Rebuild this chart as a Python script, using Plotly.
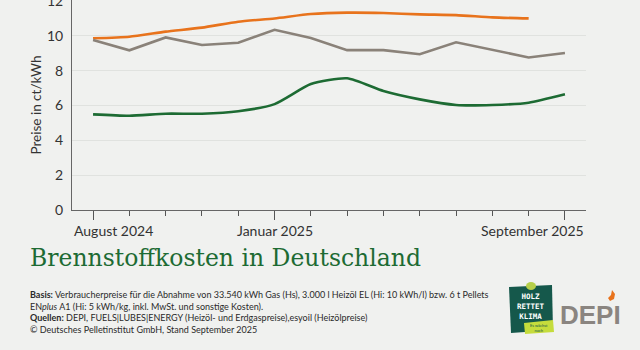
import plotly.graph_objects as go

months = ["Aug 2024", "Sep 2024", "Okt 2024", "Nov 2024", "Dez 2024", "Jan 2025", "Feb 2025",
          "Mär 2025", "Apr 2025", "Mai 2025", "Jun 2025", "Jul 2025", "Aug 2025", "Sep 2025"]
gas = [9.86, 9.95, 10.24, 10.47, 10.81, 11.0, 11.25, 11.33, 11.31, 11.23, 11.19, 11.06, 11.0, None]
heizoel = [9.76, 9.17, 9.91, 9.47, 9.6, 10.35, 9.87, 9.18, 9.18, 8.94, 9.63, 9.2, 8.76, 9.01]
pellets = [5.49, 5.41, 5.53, 5.53, 5.67, 6.08, 7.23, 7.56, 6.83, 6.35, 6.03, 6.03, 6.16, 6.64]
tick_labels = ["August 2024", "Januar 2025", "September 2025"]
tick_idx = [0, 5, 13]

x = list(range(len(months)))
BG = "#f0f1ef"
FONT = "Lato"

fig = go.Figure()
fig.add_trace(go.Scatter(x=x, y=gas, mode="lines", name="Erdgas",
                         line=dict(color="#e8731c", width=2.6, shape="spline", smoothing=0.6),
                         customdata=months, hovertemplate="%{customdata}: %{y:.2f}<extra>Erdgas</extra>"))
fig.add_trace(go.Scatter(x=x, y=heizoel, mode="lines", name="Heizöl",
                         line=dict(color="#8a8279", width=2.6),
                         customdata=months, hovertemplate="%{customdata}: %{y:.2f}<extra>Heizöl</extra>"))
fig.add_trace(go.Scatter(x=x, y=pellets, mode="lines", name="Pellets",
                         line=dict(color="#1d6b33", width=2.6, shape="spline", smoothing=0.6),
                         customdata=months, hovertemplate="%{customdata}: %{y:.2f}<extra>Pellets</extra>"))

W, H = 640, 350
ml, mr, mt, mb = 72, 640 - 586, 0, 140
yr_top = 12 * 210 / 209  # so that 12 sits 1px below the top edge

xmin, xmax = -0.58, 13.58
fig.update_xaxes(range=[xmin, xmax], tickvals=tick_idx, ticktext=["", "", ""],
                 ticks="outside", ticklen=9, tickwidth=1, tickcolor="#555",
                 minor=dict(dtick=1, tick0=0, ticks="outside", ticklen=5, tickcolor="#555", showgrid=False),
                 showline=True, linecolor="#666", linewidth=1, showgrid=False, zeroline=False,
                 automargin=False, fixedrange=True)
fig.update_yaxes(range=[0, yr_top], tickvals=[0, 2, 4, 6, 8, 10, 12], showgrid=True, gridcolor="#e0e2df", gridwidth=1,
                 showline=True, linecolor="#666", linewidth=1, zeroline=False,
                 tickfont=dict(family=FONT, size=14, color="#333"), ticks="", ticklabelstandoff=5,
                 ticklabeloverflow="allow", automargin=False,
                 title=dict(text="Preise in ct/kWh", font=dict(family=FONT, size=13.5, color="#333"), standoff=2),
                 fixedrange=True)

def px(xp):
    return (xp - ml) / (W - ml - mr)
def py(yp):
    return (H - mb - yp) / (H - mt - mb)

# x tick labels as annotations (edge labels kept inside the axis)
anchors = ["left", "center", "right"]
xs = [xmin, tick_idx[1], xmax]
for lab, xa, anc in zip(tick_labels, xs, anchors):
    fig.add_annotation(x=xa, xref="x", y=0, yref="paper", yshift=-20, text=lab, showarrow=False,
                       xanchor=anc, yanchor="middle", font=dict(family=FONT, size=14, color="#333"))

footer = ("<b>Basis:</b> Verbraucherpreise für die Abnahme von 33.540 kWh Gas (Hs), 3.000 l Heizöl EL (Hi: 10 kWh/l) bzw. 6 t Pellets<br>"
          "EN<i>plus</i> A1 (Hi: 5 kWh/kg, inkl. MwSt. und sonstige Kosten).<br>"
          "<b>Quellen:</b> DEPI, FUELS|LUBES|ENERGY (Heizöl- und Erdgaspreise),esyoil (Heizölpreise)<br>"
          "© Deutsches Pelletinstitut GmbH, Stand September 2025")

fig.add_annotation(x=px(28), y=py(258), xref="paper", yref="paper", xanchor="left", yanchor="middle",
                   text="Brennstoffkosten in Deutschland", showarrow=False,
                   font=dict(family="DejaVu Serif", size=23.5, color="#1d6b33"))
fig.add_annotation(x=px(28), y=py(287), xref="paper", yref="paper", xanchor="left", yanchor="top",
                   text=footer, showarrow=False, align="left",
                   font=dict(family=FONT, size=9, color="#2a2a2a"))

# Logos (approximate)
def pth(pts):
    return "M " + " L ".join(f"{px(a)},{py(b)}" for a, b in pts) + " Z"
fig.add_shape(type="path", xref="paper", yref="paper", path=pth([(509, 287), (552, 285), (553, 330), (511, 333)]),
              fillcolor="#15584b", line=dict(width=0))
fig.add_shape(type="circle", xref="paper", yref="paper", x0=px(526), x1=px(536), y0=py(290), y1=py(282),
              fillcolor="#b6cf4a", line=dict(width=0))
fig.add_annotation(x=px(531), y=py(306), xref="paper", yref="paper", text="<b>HOLZ<br>RETTET<br>KLIMA</b>",
                   showarrow=False, font=dict(family="DejaVu Sans Mono", size=7.5, color="white"),
                   xanchor="center", yanchor="middle", borderpad=0)
fig.add_shape(type="path", xref="paper", yref="paper", path=pth([(524, 323), (553, 320), (554, 332), (525, 334)]),
              fillcolor="#c5dc3c", line=dict(width=0))
fig.add_annotation(x=px(539), y=py(327.5), xref="paper", yref="paper", text="Es wächst<br>nach",
                   showarrow=False, font=dict(family=FONT, size=4, color="#15584b"), xanchor="center",
                   yanchor="middle", borderpad=0)
fig.add_annotation(x=px(590), y=py(315), xref="paper", yref="paper", text="<b>DEPI</b>", showarrow=False,
                   font=dict(family="Liberation Sans Narrow, Liberation Sans", size=26, color="#8a8580"),
                   xanchor="center", yanchor="middle")
fig.add_shape(type="path", xref="paper", yref="paper",
              path=pth([(612, 290), (615, 294), (614, 299), (610, 301), (608, 298), (611, 295)]),
              fillcolor="#e8731c", line=dict(width=0))

fig.update_layout(width=W, height=H, margin=dict(l=ml, r=mr, t=mt, b=mb, autoexpand=False),
                  paper_bgcolor=BG, plot_bgcolor=BG, showlegend=False,
                  font=dict(family=FONT, color="#333"), hovermode="closest")

fig.write_html("out.html", config={"displayModeBar": False})
